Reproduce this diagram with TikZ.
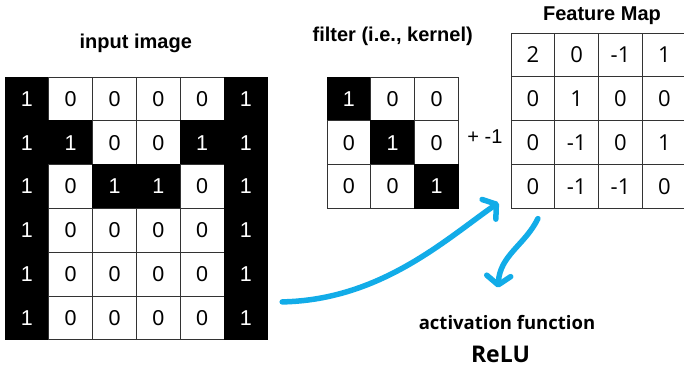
\documentclass[tikz,border=0pt]{standalone}
\usepackage{fontspec}
\setmainfont{Liberation Sans}
\newfontfamily\mapfont{Open Sans}
\usetikzlibrary{arrows.meta, positioning, calc}
\definecolor{flowblue}{RGB}{18, 172, 232}

\begin{document}
\begin{tikzpicture}[
          x=1pt, y=-1pt,
          cell/.style={draw=black!80, line width=0.8pt, minimum size=43.8pt, inner sep=0pt,
                       font=\fontsize{21.5}{21.5}\selectfont},
          px0/.style={cell, fill=white},
          px1/.style={cell, fill=black, draw=black, text=white},
          fmcell/.style={cell, font=\mapfont\fontsize{22}{22}\selectfont},
          title/.style={font=\bfseries\fontsize{20}{20}\selectfont, inner sep=0pt},
          flow/.style={-{Straight Barb[length=9pt, width=24pt, line cap=round, line join=round]},
                       line width=5.5pt, line cap=round, color=flowblue},
        ]
        \useasboundingbox (0,0) rectangle (684,366);

        % input image 6x6
        \foreach \row [count=\r] in {{1,0,0,0,0,1},{1,1,0,0,1,1},{1,0,1,1,0,1},
                                     {1,0,0,0,0,1},{1,0,0,0,0,1},{1,0,0,0,0,1}} {
          \foreach \v [count=\c] in \row {
            \node[px\v] (in\r-\c) at ({5+43.8*(\c-0.5)}, {77+43.8*(\r-0.5)}) {\v};
          }
        }

        % filter 3x3
        \foreach \row [count=\r] in {{1,0,0},{0,1,0},{0,0,1}} {
          \foreach \v [count=\c] in \row {
            \node[px\v] (fl\r-\c) at ({327+43.8*(\c-0.5)}, {77+43.8*(\r-0.5)}) {\v};
          }
        }

        % feature map 4x4
        \foreach \row [count=\r] in {{2,0,-1,1},{0,1,0,0},{0,-1,0,1},{0,-1,-1,0}} {
          \foreach \v [count=\c] in \row {
            \node[fmcell] (fm\r-\c) at ({511+43.8*(\c-0.5)}, {33+43.8*(\r-0.5)}) {\v};
          }
        }

        \node[title] (intitle) at ($(in1-3.north east)+(-1,-33)$) {input image};
        \node[title] (fltitle) at ($(fl1-2.north)+(0,-40)$) {filter (i.e., kernel)};
        \node[title] (fmtitle) at ($(fm1-2.north east)+(3,-17)$) {Feature Map};
        \node[font=\fontsize{20}{20}\selectfont, inner sep=0pt] (bias) at (485,137) {+ -1};

        \node[font=\mapfont\bfseries\fontsize{18.5}{18.5}\selectfont, inner sep=0pt] (act) at (507,323) {activation function};
        \node[font=\mapfont\bfseries\fontsize{23}{23}\selectfont, inner sep=0pt, anchor=base] (relu)
             at ($(act.base)+(-6.5,33)$) {ReLU};

        \coordinate (convfrom) at ($(in6-6.east)+(14,-16)$);
        \coordinate (convto) at ($(fm4-1.south west)+(-12,-6)$);
        \coordinate (actfrom) at ($(fm4-1.south)+(5,10)$);
        \coordinate (actto) at ($(act.north)+(-9,-28)$);

        \draw[flow] (convfrom) .. controls (380,300) and (445,240) .. (convto);
        \draw[flow] (actfrom) .. controls (525,245) and (500,255) .. (actto);
      \end{tikzpicture}
\end{document}
